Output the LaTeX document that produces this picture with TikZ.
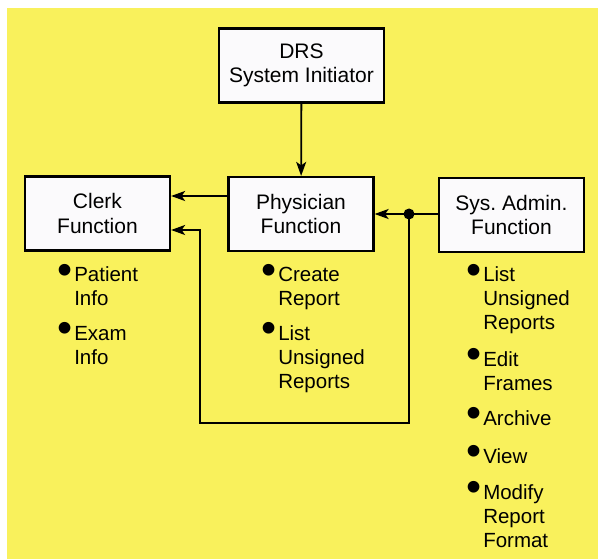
\documentclass[tikz,border=0pt]{standalone}
\usepackage{fontspec}
\setmainfont{Liberation Sans}
\usepackage{graphicx}
\usetikzlibrary{arrows.meta}

\definecolor{paper}{RGB}{249,241,92}
\definecolor{boxwhite}{RGB}{251,250,252}

\newcommand{\bul}{\smash{\raisebox{-2pt}{\scalebox{2.1}{\textbullet}}}}
\newcommand{\blist}[1]{\begin{tabular}[t]{@{}l@{\hspace{2pt}}l@{}}#1\end{tabular}}

\tikzset{
    funcbox/.style={draw, line width=2.2pt, fill=boxwhite, minimum width=145pt,
      minimum height=74pt, align=center, inner sep=0pt,
      font=\fontsize{21}{24.5}\selectfont},
    itemlist/.style={anchor=base west, inner sep=0pt,
      font=\fontsize{20.5}{23.8}\selectfont},
    link/.style={line width=1.8pt, -{Stealth[length=14pt,width=10pt,inset=3.5pt]}}
}

\begin{document}
\begin{tikzpicture}[x=1pt,y=-1pt]
    \fill[white] (0,0) rectangle (598,559);
    \useasboundingbox (0,0) rectangle (598,559);
    \fill[paper] (7,8) rectangle (598,559);
    \begin{scope}
      \node[funcbox, minimum width=165pt] (drs) at (301.5,65.5) {DRS\\System Initiator};
      \node[funcbox] (clerk) at (97.5,213.5) {Clerk\\Function};
      \node[funcbox] (phys) at (301,214) {Physician\\Function};
      \node[funcbox] (admin) at (511.5,215) {Sys.\ Admin.\\Function};

      \node[itemlist] (clerklist) at (57,282) {\blist{\bul & Patient\\ & Info\\[11pt]
        \bul & Exam\\ & Info}};
      \node[itemlist] (physlist) at (261,282) {\blist{\bul & Create\\ & Report\\[11pt]
        \bul & List\\ & Unsigned\\ & Reports}};
      \node[itemlist] (adminlist) at (466,282) {\blist{\bul & List\\ & Unsigned\\ & Reports\\[13pt]
        \bul & Edit\\ & Frames\\[12pt]
        \bul & Archive\\[14pt]
        \bul & View\\[12pt]
        \bul & Modify\\ & Report\\ & Format}};

      \coordinate (hi) at (0,196);
      \coordinate (lo) at (0,230);
      \coordinate (jn) at (409,214);
      \coordinate (loopbot) at (200,423);

      \draw[link] (drs) -- (phys);
      \draw[link] (phys.west |- hi) -- (clerk.east |- hi);
      \draw[link] (admin.west |- jn) -- (phys.east |- jn);
      \draw[link] (jn) |- (loopbot) |- (clerk.east |- lo);
      \fill (jn) circle (5.5pt);
    \end{scope}
\end{tikzpicture}
\end{document}
